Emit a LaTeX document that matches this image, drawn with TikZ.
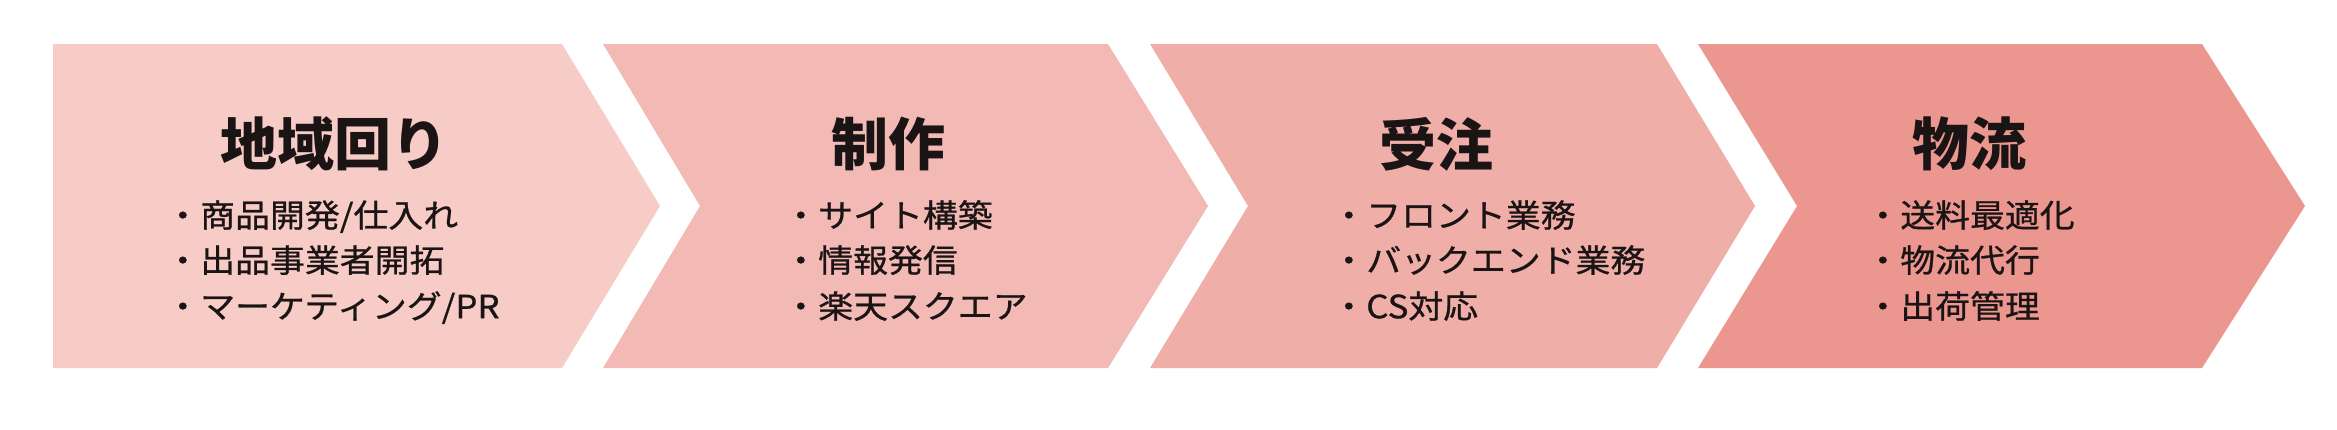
\documentclass[tikz,border=0pt]{standalone}
\usepackage{fontspec}
\newfontfamily\jpfont{Noto Sans CJK JP}
\newfontfamily\jpitem[FakeBold=0.8,FakeStretch=1.09]{Noto Sans CJK JP}
\definecolor{cA}{HTML}{F7CBC6}
\definecolor{cB}{HTML}{F3B9B5}
\definecolor{cC}{HTML}{EFAEA7}
\definecolor{cD}{HTML}{EC9690}
\definecolor{ink}{HTML}{1A1414}
\tikzset{
  titletext/.style={anchor=center, inner sep=0pt, text=ink, font=\jpfont\bfseries\fontsize{28.5}{32}\selectfont},
  itemtext/.style={anchor=west, inner sep=0pt, text=ink, text height=14.1pt, text depth=1.9pt, font=\jpitem\fontsize{16}{19}\selectfont},
}
\begin{document}
\begin{tikzpicture}[x=0.5pt, y=-0.5pt]
\useasboundingbox[fill=white] (0,0) rectangle (2337,429);
% chevrons
\fill[cA] (53,44) -- (562,44) -- (660,206) -- (562,368) -- (53,368) -- cycle;
\fill[cB] (603,44) -- (1108,44) -- (1208,206) -- (1108,368) -- (603,368) -- (700,206) -- cycle;
\fill[cC] (1150,44) -- (1657,44) -- (1755,206) -- (1657,368) -- (1150,368) -- (1248,206) -- cycle;
\fill[cD] (1698,44) -- (2202,44) -- (2305,206) -- (2202,368) -- (1698,368) -- (1797,206) -- cycle;
% box 1
\node[titletext] (t1) at (334,144) {地域回り};
\node[itemtext] (a1) at (165,215) {・商品開発/仕入れ};
\node[itemtext] (a2) at (165,260) {・出品事業者開拓};
\node[itemtext] (a3) at (165,306) {・マーケティング/PR};
% box 2
\node[titletext] (t2) at (888,144) {制作};
\node[itemtext] (b1) at (783,215) {・サイト構築};
\node[itemtext] (b2) at (783,260) {・情報発信};
\node[itemtext] (b3) at (783,306) {・楽天スクエア};
% box 3
\node[titletext] (t3) at (1436,144) {受注};
\node[itemtext] (c1) at (1331,215) {・フロント業務};
\node[itemtext] (c2) at (1331,260) {・バックエンド業務};
\node[itemtext] (c3) at (1331,306) {・CS対応};
% box 4
\node[titletext] (t4) at (1969,144) {物流};
\node[itemtext] (d1) at (1865,215) {・送料最適化};
\node[itemtext] (d2) at (1865,260) {・物流代行};
\node[itemtext] (d3) at (1865,306) {・出荷管理};
\end{tikzpicture}
\end{document}
